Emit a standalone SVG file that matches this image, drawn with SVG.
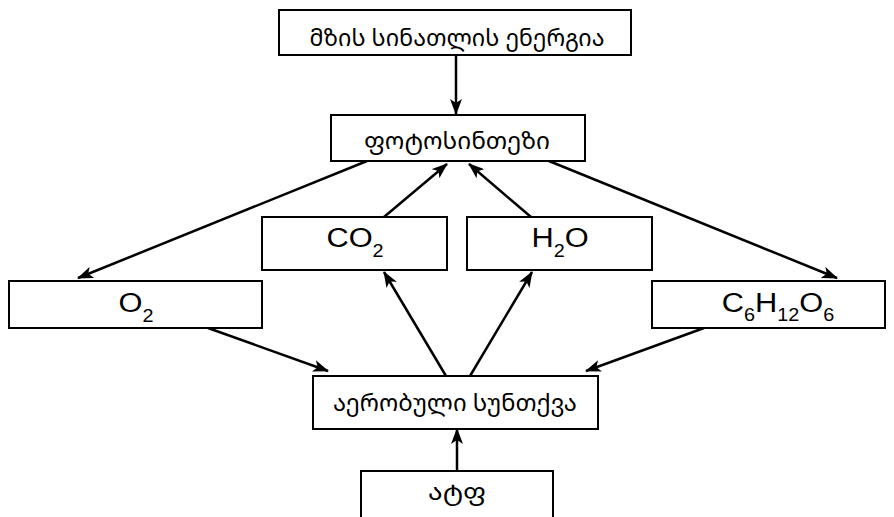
<svg xmlns="http://www.w3.org/2000/svg" width="894" height="517" viewBox="0 0 894 517">
<style>
.box{fill:#fff;stroke:#000;stroke-width:2}
.geo{font-family:"Noto Sans Georgian","DejaVu Sans","Noto Sans",sans-serif;font-size:23px;fill:#000;text-anchor:middle}
.chem{font-family:"Liberation Sans",Arial,sans-serif;font-size:28px;fill:#000;text-anchor:middle}
.sub{font-size:18px}
.conn line{stroke:#000;stroke-width:2.5;marker-end:url(#ah)}
</style>
<defs>
<marker id="ah" markerUnits="userSpaceOnUse" markerWidth="16" markerHeight="12" refX="15" refY="6" orient="auto">
<path d="M0,0 L16,6 L0,12 L4,6 z" fill="#000"/>
</marker>
</defs>
<rect width="894" height="517" fill="#fff"/>
<g class="conn">
<line x1="456" y1="55" x2="456" y2="114"/>
<line x1="367" y1="161" x2="78" y2="278"/>
<line x1="549" y1="161" x2="837" y2="278"/>
<line x1="384" y1="217" x2="447" y2="164"/>
<line x1="531" y1="217" x2="469" y2="164"/>
<line x1="446" y1="376" x2="384" y2="272"/>
<line x1="470" y1="376" x2="532" y2="272"/>
<line x1="208" y1="328" x2="328" y2="371"/>
<line x1="704" y1="328" x2="586" y2="371"/>
<line x1="457" y1="471" x2="457" y2="429"/>
</g>
<g id="sun"><rect class="box" x="279" y="10" width="352" height="45"/><text class="geo" x="457" y="46" textLength="295" lengthAdjust="spacingAndGlyphs">მზის სინათლის ენერგია</text></g>
<g id="photo"><rect class="box" x="331" y="115" width="254" height="46"/><text class="geo" x="457" y="149" textLength="186" lengthAdjust="spacingAndGlyphs">ფოტოსინთეზი</text></g>
<g id="co2"><rect class="box" x="262" y="217" width="185" height="53"/><text class="chem" transform="translate(355,247) scale(1.1,1)">CO<tspan class="sub" dy="10">2</tspan></text></g>
<g id="h2o"><rect class="box" x="467" y="217" width="185" height="53"/><text class="chem" transform="translate(560,247) scale(1.1,1)">H<tspan class="sub" dy="10">2</tspan><tspan dy="-10">O</tspan></text></g>
<g id="o2"><rect class="box" x="9" y="281" width="253" height="47"/><text class="chem" transform="translate(136,312) scale(1.1,1)">O<tspan class="sub" dy="10">2</tspan></text></g>
<g id="glucose"><rect class="box" x="652" y="281" width="233" height="47"/><text class="chem" transform="translate(778,312) scale(1.1,1)">C<tspan class="sub" dy="9">6</tspan><tspan dy="-9">H</tspan><tspan class="sub" dy="9">12</tspan><tspan dy="-9">O</tspan><tspan class="sub" dy="9">6</tspan></text></g>
<g id="aerobic"><rect class="box" x="313" y="376" width="285" height="53"/><text class="geo" x="455" y="411" textLength="244" lengthAdjust="spacingAndGlyphs">აერობული სუნთქვა</text></g>
<g id="atp"><rect class="box" x="361" y="471" width="192" height="60"/><text class="geo" x="457" y="500" textLength="58" lengthAdjust="spacingAndGlyphs">ატფ</text></g>
</svg>
